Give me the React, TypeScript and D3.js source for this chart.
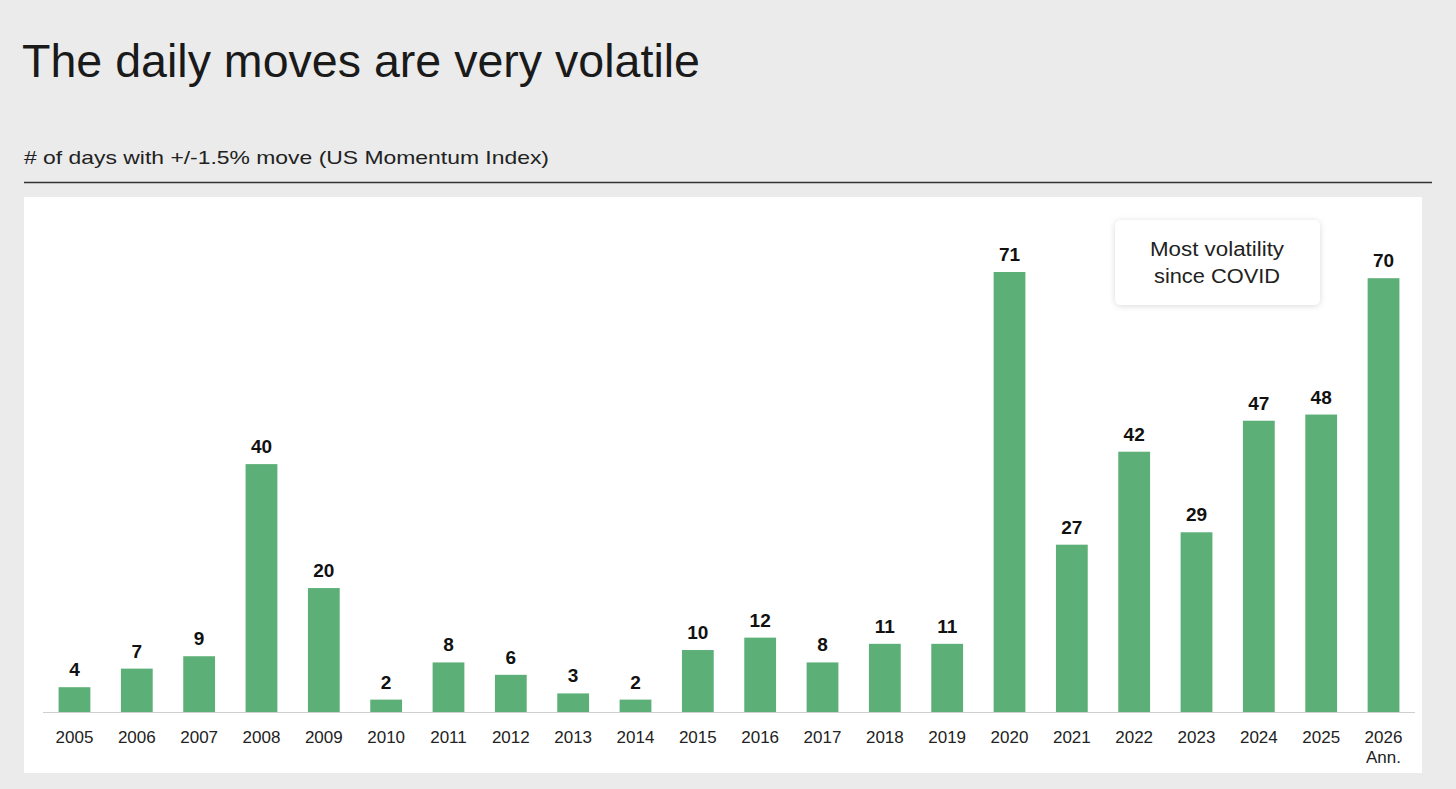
import * as d3 from "d3";
import React from "react";

const years = ["2005","2006","2007","2008","2009","2010","2011","2012","2013","2014","2015","2016","2017","2018","2019","2020","2021","2022","2023","2024","2025","2026"];
const days = [4,7,9,40,20,2,8,6,3,2,10,12,8,11,11,71,27,42,29,47,48,70];
const subLabels: Record<string, string> = { "2026": "Ann." };

const W = 1456;
const H = 789;
const font = "Liberation Sans, Arial, sans-serif";

export default function App() {
  const x = d3.scaleBand<string>().domain(years).range([43, 1415]).paddingInner(0.49).paddingOuter(0.25);
  const y = d3.scaleLinear().domain([0, 71]).range([712, 272]);
  const bw = x.bandwidth();

  return (
    <svg width={W} height={H} style={{ position: "absolute", left: 0, top: 0 }} fontFamily={font}>
      <defs>
        <filter id="sh" x="-20%" y="-20%" width="140%" height="140%">
          <feDropShadow dx="0" dy="1" stdDeviation="3" floodColor="#000" floodOpacity="0.15" />
        </filter>
      </defs>
      <rect width={W} height={H} fill="#ebebeb" />
      <text x={22} y={77} fontSize={46} fontWeight={300} fill="#1a1a1a" textLength={678} lengthAdjust="spacingAndGlyphs">
        The daily moves are very volatile
      </text>
      <text x={24} y={164} fontSize={19} fill="#222" textLength={525} lengthAdjust="spacingAndGlyphs">
        # of days with +/-1.5% move (US Momentum Index)
      </text>
      <line x1={24} x2={1432} y1={182.5} y2={182.5} stroke="#333" strokeWidth={1.5} />
      <rect x={24} y={197} width={1398} height={576} fill="#fff" />
      <line x1={43} x2={1415} y1={712.5} y2={712.5} stroke="#cfcfcf" />
      {years.map((yr, i) => {
        const cx = x(yr)! + bw / 2;
        return (
          <g key={yr}>
            <rect x={x(yr)} y={y(days[i])} width={bw} height={712 - y(days[i])} fill="#5daf78" />
            <text x={cx} y={y(days[i]) - 11} textAnchor="middle" fontSize={19} fontWeight={700} fill="#111">
              {days[i]}
            </text>
            <text x={cx} y={743} textAnchor="middle" fontSize={17} fill="#222">{yr}</text>
            {subLabels[yr] && (
              <text x={cx} y={763} textAnchor="middle" fontSize={17} fill="#222">{subLabels[yr]}</text>
            )}
          </g>
        );
      })}
      <rect x={1115} y={220} width={205} height={85} rx={6} fill="#fff" filter="url(#sh)" />
      <text x={1217} y={256} textAnchor="middle" fontSize={20} fill="#222" textLength={134} lengthAdjust="spacingAndGlyphs">Most volatility</text>
      <text x={1217} y={283} textAnchor="middle" fontSize={20} fill="#222" textLength={126} lengthAdjust="spacingAndGlyphs">since COVID</text>
    </svg>
  );
}
